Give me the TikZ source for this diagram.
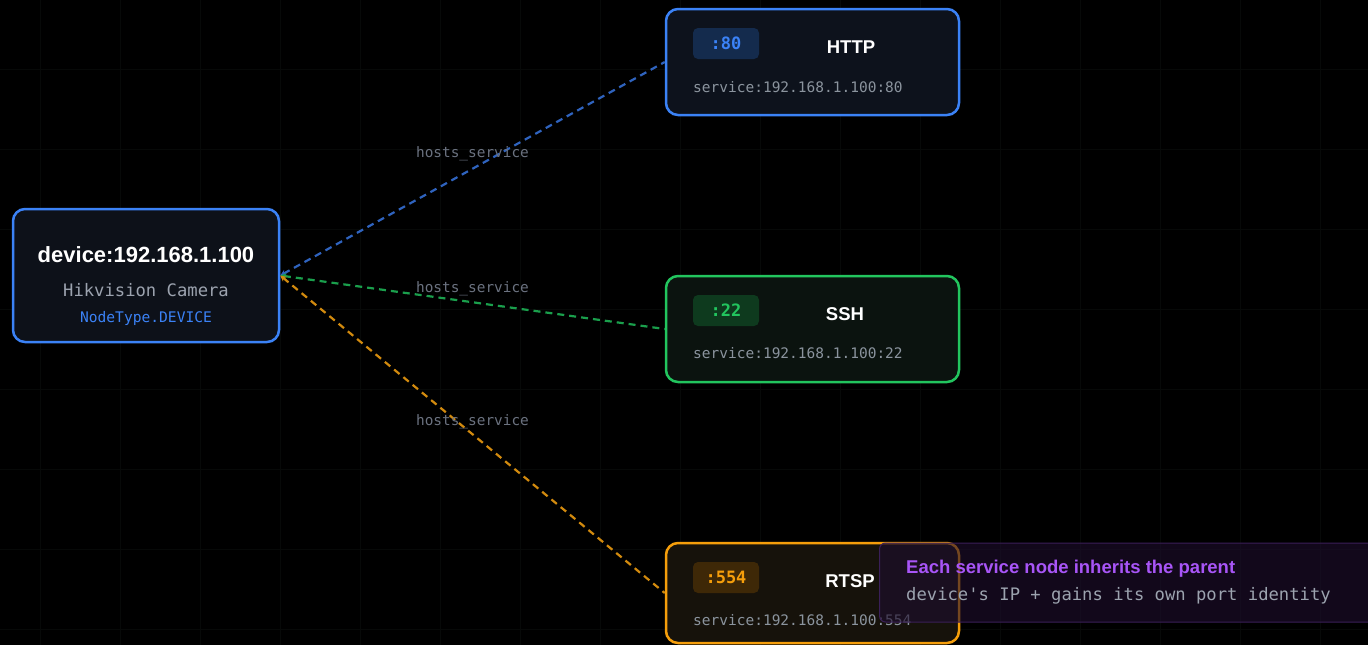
\documentclass[tikz,border=0pt]{standalone}
\usepackage{fontspec}
\setmainfont{Liberation Sans}
\newfontfamily\monofont{DejaVu Sans Mono}
\usetikzlibrary{arrows.meta}
\definecolor{bgc}{HTML}{000000}
\definecolor{gridc}{HTML}{070908}
\definecolor{nodefill}{HTML}{0D1119}
\definecolor{httpfill}{HTML}{0D121C}
\definecolor{sshfill}{HTML}{0B130F}
\definecolor{rtspfill}{HTML}{16120B}
\definecolor{blueb}{HTML}{3B82F6}
\definecolor{greenb}{HTML}{22C55E}
\definecolor{orangeb}{HTML}{F59E0B}
\definecolor{blueedge}{HTML}{2F63BE}
\definecolor{greenedge}{HTML}{1A9F4C}
\definecolor{orangeedge}{HTML}{D28A0E}
\definecolor{bluebadge}{HTML}{142B4D}
\definecolor{greenbadge}{HTML}{0E3A1E}
\definecolor{orangebadge}{HTML}{3E2807}
\definecolor{greytext}{HTML}{9CA3AF}
\definecolor{servtext}{HTML}{8B949E}
\definecolor{labeltext}{HTML}{6B7280}
\definecolor{purplet}{HTML}{A855F7}
\definecolor{notefill}{HTML}{1E0E2E}
\definecolor{noteborder}{HTML}{3A1F58}
\tikzset{
  box/.style={rectangle, rounded corners=12pt, line width=2.5pt, inner sep=0pt},
  badge/.style={rectangle, rounded corners=5pt, minimum width=66pt, minimum height=31pt, inner sep=0pt, font=\monofont\bfseries\fontsize{17}{20}\selectfont},
  svctitle/.style={font=\bfseries\fontsize{18.5}{22}\selectfont, text=white, inner sep=0pt},
  svcid/.style={anchor=west, font=\monofont\fontsize{14.5}{17}\selectfont, text=servtext, inner sep=0pt},
  edgelabel/.style={font=\monofont\fontsize{14.4}{17}\selectfont, text=labeltext, inner sep=0pt},
  conn/.style={dashed, dash pattern=on 7pt off 5pt, line width=2.2pt, {Stealth[length=6pt,width=6pt]}-},
}
\begin{document}
\begin{tikzpicture}[x=1pt,y=-1pt]
\useasboundingbox (0,0) rectangle (1368,645);
\fill[bgc] (0,0) rectangle (1368,645);
% faint grid
\foreach \gx in {40,120,...,1368} \draw[gridc, line width=0.8pt] (\gx,0) -- (\gx,645);
\foreach \gy in {69,149,...,645} \draw[gridc, line width=0.8pt] (0,\gy) -- (1368,\gy);

% device node
\node[box, draw=blueb, fill=nodefill, minimum width=266pt, minimum height=133pt] (dev) at (146,275.5) {};
\node[font=\bfseries\fontsize{22}{26}\selectfont, text=white, inner sep=0pt] (devtitle) at (146,255) {device:192.168.1.100};
\node[font=\monofont\fontsize{17.2}{20}\selectfont, text=greytext, inner sep=0pt] (devsub) at (146,290) {Hikvision Camera};
\node[font=\monofont\fontsize{14.6}{17}\selectfont, text=blueb, inner sep=0pt] (devtype) at (146,318) {NodeType.DEVICE};

% service nodes
\node[box, draw=blueb, fill=httpfill, minimum width=293pt, minimum height=106pt] (http) at (812.5,62) {};
\node[badge, fill=bluebadge, text=blueb] (httpb) at (726,43.5) {:80};
\node[svctitle] (httpt) at (851,47) {HTTP};
\node[svcid] (httpid) at (693,87) {service:192.168.1.100:80};

\node[box, draw=greenb, fill=sshfill, minimum width=293pt, minimum height=106pt] (ssh) at (812.5,329) {};
\node[badge, fill=greenbadge, text=greenb] (sshb) at (726,310.5) {:22};
\node[svctitle] (ssht) at (845,314) {SSH};
\node[svcid] (sshid) at (693,353) {service:192.168.1.100:22};

\node[box, draw=orangeb, fill=rtspfill, minimum width=293pt, minimum height=100pt] (rtsp) at (812.5,593) {};
\node[badge, fill=orangebadge, text=orangeb] (rtspb) at (726,577.5) {:554};
\node[svctitle] (rtspt) at (850,581) {RTSP};
\node[svcid] (rtspid) at (693,620) {service:192.168.1.100:554};

% connectors
\draw[conn, blueedge] (dev.east) -- node[edgelabel, pos=0.5, yshift=15pt] (l1) {hosts\_service} (http.west);
\draw[conn, greenedge] (dev.east) -- node[edgelabel, pos=0.5, yshift=14pt] (l2) {hosts\_service} (ssh.west);
\draw[conn, orangeedge] (dev.east) -- node[edgelabel, pos=0.5, yshift=13pt] (l3) {hosts\_service} (rtsp.west);

% note
\node[rectangle, rounded corners=6pt, draw=noteborder, line width=1pt, fill=notefill, fill opacity=0.6, minimum width=495pt, minimum height=79pt, inner sep=0pt] (note) at (1127,582.5) {};
\node[anchor=west, font=\fontsize{18.5}{22}\selectfont\bfseries, text=purplet, inner sep=0pt] (notet) at (906,569) {Each service node inherits the parent};
\node[anchor=west, font=\monofont\fontsize{17.2}{20}\selectfont, text=greytext, inner sep=0pt] (notes) at (906,596) {device's IP + gains its own port identity};
\end{tikzpicture}
\end{document}
